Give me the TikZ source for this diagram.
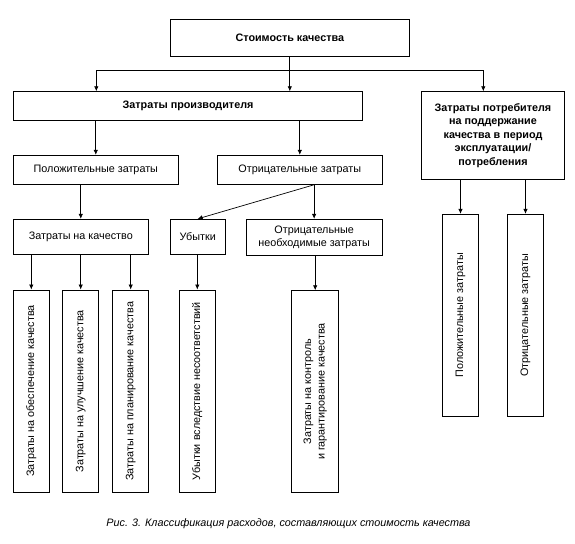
\documentclass[tikz,border=0pt]{standalone}
\usepackage{fontspec}
\setmainfont{Liberation Sans}
\usetikzlibrary{arrows.meta}
\begin{document}
\begin{tikzpicture}[x=1pt,y=-1pt,
  box/.style={draw, line width=0.9pt, inner sep=1pt, align=center, font=\fontsize{10.8}{13.4}\selectfont},
  bbox/.style={box, font=\fontsize{10.8}{13.4}\selectfont\bfseries},
  vbox/.style={box, rotate=90},
  arr/.style={line width=0.7pt, -{Latex[length=5pt,width=4.5pt]}},
  ln/.style={line width=0.7pt}]
\useasboundingbox (0,0) rectangle (575,543);
% level 0
\node[bbox, minimum width=239pt, minimum height=37pt] (top) at (289.8,37.5) {Стоимость качества};
% level 1
\node[bbox, minimum width=349.4pt, minimum height=28.3pt] (prod) at (188,105.85) {Затраты производителя};
\node[bbox, minimum width=142.6pt, minimum height=87.6pt] (cons) at (493,135.5) {Затраты потребителя\\на поддержание\\качества в период\\эксплуатации/\\потребления};
% level 2
\node[box, minimum width=165pt, minimum height=29pt] (pos) at (95.8,169.8) {Положительные затраты};
\node[box, minimum width=165pt, minimum height=29pt] (neg) at (299.8,169.8) {Отрицательные затраты};
% level 3
\node[box, minimum width=135pt, minimum height=34.7pt] (qual) at (80.8,236.65) {Затраты на качество};
\node[box, minimum width=55.3pt, minimum height=34.7pt] (loss) at (197.65,236.65) {Убытки};
\node[box, minimum width=136.3pt, minimum height=36.4pt] (negnec) at (314.15,237.5) {Отрицательные\\необходимые затраты};
% vertical boxes
\node[vbox, minimum width=202.3pt, minimum height=36pt] (v1) at (31.3,391.15) {Затраты на обеспечение качества};
\node[vbox, minimum width=202.3pt, minimum height=36pt] (v2) at (80.7,391.15) {Затраты на улучшение качества};
\node[vbox, minimum width=202.3pt, minimum height=36pt] (v3) at (130.7,391.15) {Затраты на планирование качества};
\node[vbox, minimum width=202.3pt, minimum height=36pt] (v4) at (197.3,391.15) {Убытки вследствие несоответствий};
\node[vbox, minimum width=201.6pt, minimum height=47pt] (v5) at (315.2,391.5) {Затраты на контроль\\и гарантирование качества};
\node[vbox, minimum width=202pt, minimum height=36.4pt] (v6) at (460.5,315.3) {Положительные затраты};
\node[vbox, minimum width=202pt, minimum height=36.4pt] (v7) at (525.5,315.3) {Отрицательные затраты};
% caption
\node[font=\fontsize{10.8}{13}\selectfont\itshape, inner sep=0pt] (cap) at (288.5,523.5) {Рис. 3. Классификация расходов, составляющих стоимость качества};
% connectors
\coordinate (busL) at (96.3,70.3);
\coordinate (busR) at (483.3,70.3);
\draw[ln] (busL) -- (busR);
\draw[arr] (top.south) -- (top.south |- prod.north);
\draw[arr] (busL) -- (busL |- prod.north);
\draw[arr] (busR) -- (busR |- cons.north);
\draw[arr] (prod.south -| pos) -- (pos.north);
\draw[arr] (prod.south -| neg) -- (neg.north);
\draw[arr] (pos.south -| qual) -- (qual.north);
\draw[arr] (neg.south -| negnec) -- (negnec.north);
\draw[arr] (neg.south -| negnec) -- (loss.north);
\draw[arr] (qual.south -| v1) -- (v1.east);
\draw[arr] (qual.south -| v2) -- (v2.east);
\draw[arr] (qual.south -| v3) -- (v3.east);
\draw[arr] (loss.south -| v4) -- (v4.east);
\draw[arr] (negnec.south -| v5) -- (v5.east);
\draw[arr] (cons.south -| v6) -- (v6.east);
\draw[arr] (cons.south -| v7) -- (v7.east);
\end{tikzpicture}
\end{document}
